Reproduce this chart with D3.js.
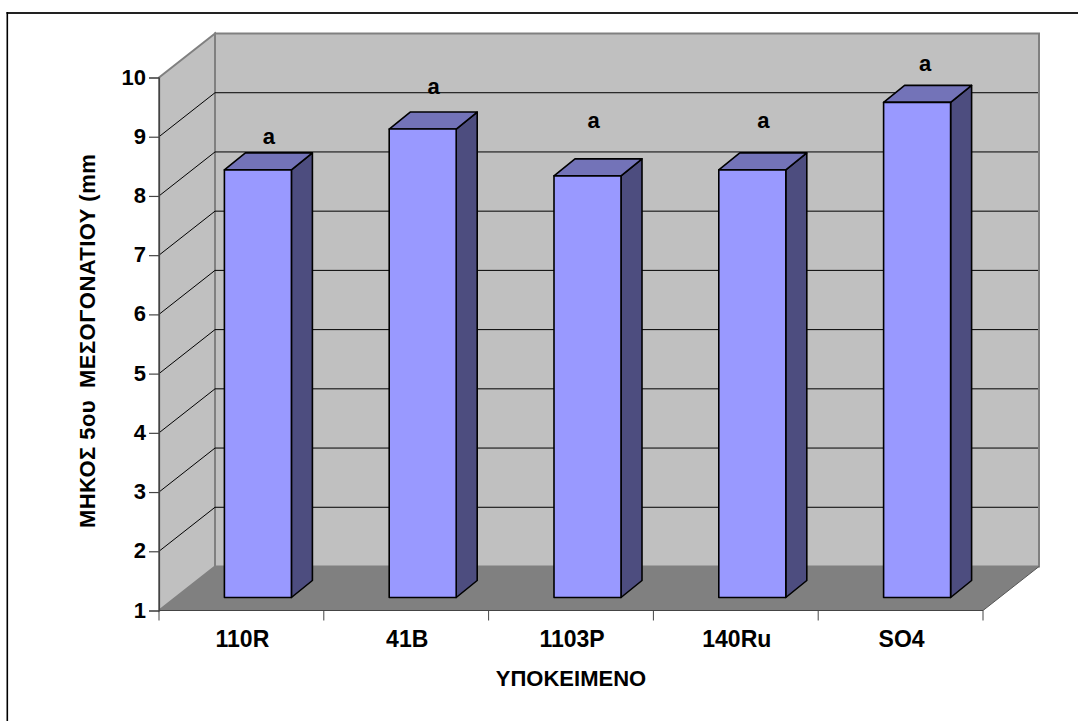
<!DOCTYPE html>
<html>
<head>
<meta charset="utf-8">
<script src="https://cdn.jsdelivr.net/npm/d3@7"></script>
<style>
html,body{margin:0;padding:0;background:#fff}
svg{display:block}
text{font-family:"Liberation Sans",Arial,sans-serif;font-weight:bold;fill:#000}
</style>
</head>
<body>
<svg id="chart" width="1078" height="721"></svg>
<script>
// Rootstock means
const categories = ["110R", "41B", "1103P", "140Ru", "SO4"];
const lengths = [8.22, 8.91, 8.12, 8.22, 9.36];
const letters = ["a", "a", "a", "a", "a"];
// Height of each significance letter, in axis units
const letterLevels = [8.87, 9.72, 9.15, 9.15, 10.11];
const yTicks = [1, 2, 3, 4, 5, 6, 7, 8, 9, 10];
const yTitleParts = ["ΜΗΚΟΣ 5ου", "ΜΕΣΟΓΟΝΑΤΙΟΥ (mm"];
const xTitle = "ΥΠΟΚΕΙΜΕΝΟ";

const svg = d3.select("#chart");
const x = d3.scaleBand().domain(categories).range([159, 983]);
const y = d3.scaleLinear().domain([1, 10]).range([610.5, 77.5]);

// Oblique projection of the chart box and of the bars inside it
const wall = {dx: 56, dy: -44};
const barFront = {dx: 16.5, dy: -13};
const barDepth = {dx: 21, dy: -17};
const barWidth = 67;
const FONT = 22;

const xL = x.range()[0], xR = x.range()[1];
const yB = y(1), yT = y(10);
const poly = pts => pts.map(p => p.join(",")).join(" ");

const GREY = "#808080";

// Top and left rules of the chart frame
svg.append("line").attr("x1", 6.5).attr("x2", 1078).attr("y1", 13).attr("y2", 13)
  .attr("stroke", "#222").attr("stroke-width", 2);
svg.append("line").attr("x1", 7.3).attr("x2", 7.3).attr("y1", 12).attr("y2", 721)
  .attr("stroke", "#000").attr("stroke-width", 1.6);

// Back wall, side wall, floor
svg.append("polygon")
  .attr("points", poly([[xL + wall.dx, yT + wall.dy], [xR + wall.dx, yT + wall.dy], [xR + wall.dx, yB + wall.dy], [xL + wall.dx, yB + wall.dy]]))
  .attr("fill", "#c0c0c0").attr("stroke", GREY).attr("stroke-width", 2);
svg.append("polygon")
  .attr("points", poly([[xL, yT], [xL + wall.dx, yT + wall.dy], [xL + wall.dx, yB + wall.dy], [xL, yB]]))
  .attr("fill", "#c0c0c0").attr("stroke", GREY).attr("stroke-width", 2);

// Gridlines run along the side wall and across the back wall
const grid = svg.append("g").attr("fill", "none").attr("stroke", "#000").attr("stroke-width", 1);
yTicks.filter(t => t > 1 && t < 10).forEach(t => {
  grid.append("polyline").attr("points", poly([[xL, y(t)], [xL + wall.dx, y(t) + wall.dy], [xR + wall.dx - 1, y(t) + wall.dy]]));
});

svg.append("polygon")
  .attr("points", poly([[xL, yB], [xL + wall.dx, yB + wall.dy], [xR + wall.dx, yB + wall.dy], [xR, yB]]))
  .attr("fill", GREY).attr("stroke", "none");
svg.append("line").attr("x1", xR).attr("y1", yB).attr("x2", xR + wall.dx).attr("y2", yB + wall.dy)
  .attr("stroke", "#555").attr("stroke-width", 1);

// Axes
const yAxis = d3.axisLeft(y).tickValues(yTicks).tickSize(10).tickPadding(3).tickFormat(d3.format("d"));
const gy = svg.append("g").attr("transform", `translate(${xL},0)`).call(yAxis);
gy.selectAll("text").attr("font-size", FONT).attr("dy", "0.3em");
gy.selectAll("path,line").attr("stroke", "#444").attr("stroke-width", 1.2);

const xAxis = d3.axisBottom(x).tickSize(0).tickPadding(20);
const gx = svg.append("g").attr("transform", `translate(1,${yB})`).call(xAxis);
gx.select("path").remove();
gx.selectAll("text").attr("font-size", FONT + 1);
const boundaries = categories.map(c => x(c)).concat([xR]);
svg.append("g").selectAll("line").data(boundaries).join("line")
  .attr("x1", d => d).attr("x2", d => d).attr("y1", yB).attr("y2", yB + 10)
  .attr("stroke", "#444").attr("stroke-width", 1);
svg.append("line").attr("x1", xL).attr("x2", xR).attr("y1", yB).attr("y2", yB)
  .attr("stroke", "#444").attr("stroke-width", 1.2);

// Bars: side, top, then front face
const bars = svg.append("g").selectAll("g").data(categories).join("g")
  .attr("stroke", "#000").attr("stroke-width", 1.6).attr("stroke-linejoin", "round");
bars.each(function (c, i) {
  const g = d3.select(this);
  const cx = x(c) + x.bandwidth() / 2 + barFront.dx;
  const l = cx - barWidth / 2, r = cx + barWidth / 2;
  const t = y(lengths[i]) + barFront.dy, b = y(1) + barFront.dy;
  g.append("polygon").attr("fill", "#4d4d7f")
    .attr("points", poly([[r, t], [r + barDepth.dx, t + barDepth.dy], [r + barDepth.dx, b + barDepth.dy], [r, b]]));
  g.append("polygon").attr("fill", "#7373b8")
    .attr("points", poly([[l, t], [l + barDepth.dx, t + barDepth.dy], [r + barDepth.dx, t + barDepth.dy], [r, t]]));
  g.append("rect").attr("x", l).attr("y", t).attr("width", barWidth).attr("height", b - t).attr("fill", "#9999ff");
});

// Significance letters above the bars
const letterShift = [11, 11, 6, 11, 8];
svg.append("g").selectAll("text").data(categories).join("text")
  .attr("x", (c, i) => x(c) + x.bandwidth() / 2 + barFront.dx + letterShift[i])
  .attr("y", (c, i) => y(letterLevels[i]))
  .attr("text-anchor", "middle").attr("font-size", FONT)
  .text((c, i) => letters[i]);

// Axis titles
svg.append("text").attr("x", 571).attr("y", 686).attr("text-anchor", "middle")
  .attr("font-size", FONT).text(xTitle);
const yt = svg.append("text").attr("transform", "translate(95,528) rotate(-90)")
  .attr("font-size", FONT).attr("letter-spacing", 0.45);
yt.append("tspan").text(yTitleParts[0]);
yt.append("tspan").attr("dx", 12).text(yTitleParts[1]);
</script>
</body>
</html>
